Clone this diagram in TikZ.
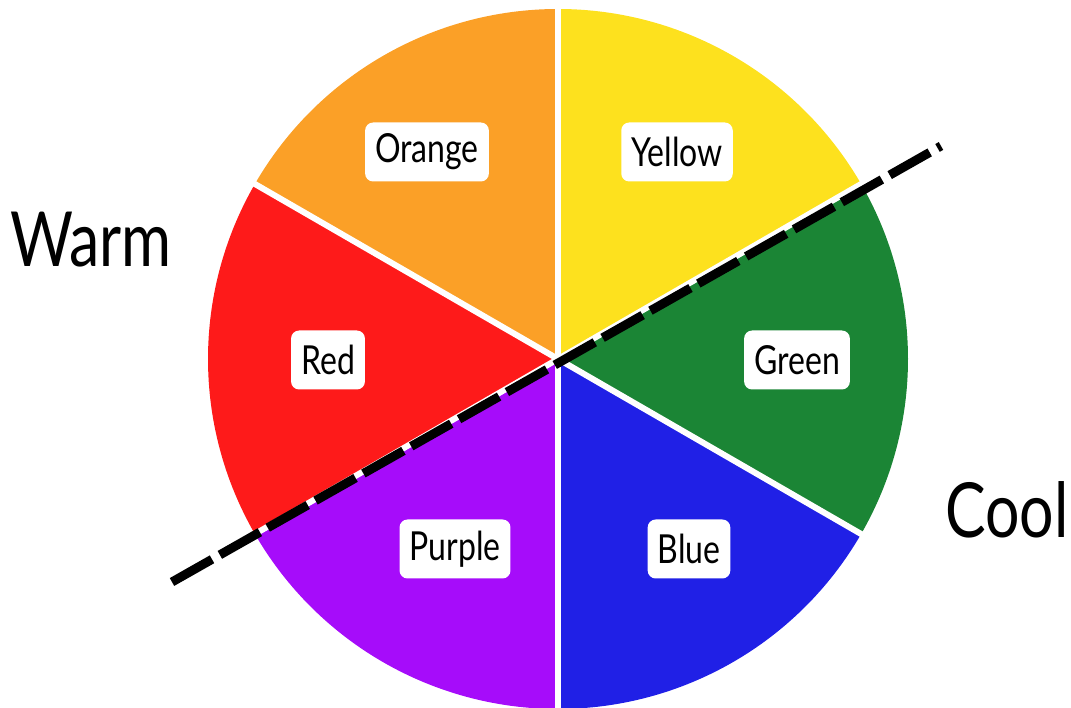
\documentclass[tikz,border=0pt]{standalone}
\usepackage{fontspec}
\setmainfont{Lato}[FakeStretch=0.8]
\usepackage{tikz}
\definecolor{cwRed}{HTML}{FE1A1A}
\definecolor{cwOrange}{HTML}{FBA027}
\definecolor{cwYellow}{HTML}{FDE11E}
\definecolor{cwGreen}{HTML}{1B8535}
\definecolor{cwBlue}{HTML}{2020E6}
\definecolor{cwPurple}{HTML}{A60CFA}
\def\cwR{350}
\tikzset{
  cwlbl/.style={fill=white, rounded corners=8pt, minimum height=59pt, inner xsep=10pt,
    font=\fontsize{40}{40}\selectfont},
  cwside/.style={font=\fontsize{76}{76}\selectfont, inner sep=0pt},
  cwsep/.style={white, line width=6pt},
  cwcut/.style={line width=9pt, dash pattern=on 46pt off 9pt},
}
\newcommand{\cwsector}[3]{%
  \fill[#3] (cw) -- ++(#1:\cwR) arc[start angle=#1, end angle=#2, radius=\cwR] -- cycle;}
\newcommand{\cwlabel}[3]{\node[cwlbl] (#1) at (#2) {#3};}

\begin{document}
\begin{tikzpicture}[x=1pt, y=1pt]
  \useasboundingbox (0,0) rectangle (1071,708);
  \coordinate (cw) at (558,349);

  % sectors
  \cwsector{30}{90}{cwYellow}
  \cwsector{90}{150}{cwOrange}
  \cwsector{150}{210}{cwRed}
  \cwsector{210}{270}{cwPurple}
  \cwsector{270}{330}{cwBlue}
  \cwsector{330}{390}{cwGreen}
  \foreach \a in {30,90,...,330}
    \draw[cwsep] (cw) -- ++(\a:\cwR+6);

  % warm / cool split
  \coordinate (cutA) at (172,126);
  \coordinate (cutB) at (941,562);
  \draw[cwcut] (cutA) -- (cutB);

  \cwlabel{orange}{427,556}{Orange}
  \cwlabel{yellow}{677,556}{Yellow}
  \cwlabel{red}{328,348}{Red}
  \cwlabel{green}{797,348}{Green}
  \cwlabel{purple}{455,159}{Purple}
  \cwlabel{blue}{689,159}{Blue}

  \node[cwside] (warm) at (91,468) {Warm};
  \node[cwside] (cool) at (1007,198) {Cool};
\end{tikzpicture}
\end{document}
